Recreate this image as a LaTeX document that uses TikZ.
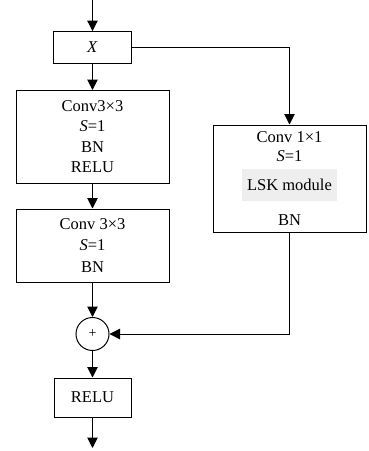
\documentclass[tikz,border=0pt]{standalone}
\usepackage{fontspec}
\setmainfont{Liberation Serif}
\usetikzlibrary{arrows.meta}
\begin{document}
\begin{tikzpicture}[x=1pt,y=-1pt, line width=1pt,
  box/.style={draw, rectangle, inner sep=0pt},
  arr/.style={-{Triangle[length=10.5pt,width=10.5pt]}},
  txt/.style={font=\fontsize{16.5}{20.5}\selectfont, align=center, inner sep=0pt}]
\useasboundingbox (0,0) rectangle (368,451);
\coordinate (top) at (92.5,0);
\coordinate (bot) at (92.5,448);
\node[box, txt, minimum width=78, minimum height=31.5] (x) at (92.5,47.3) {\textit{X}};
\node[box, txt, minimum width=153, minimum height=92.5] (b1) at (92.5,136.75)
  {Conv3×3\\\textit{S}=1\\BN\\RELU};
\node[box, txt, minimum width=153, minimum height=73, font=\fontsize{16.5}{21.5}\selectfont] (b2) at (92.5,245.5)
  {Conv 3×3\\\textit{S}=1\\BN};
\node[box, minimum width=153, minimum height=107] (r) at (289.5,178.5) {};
\node[txt] (r1) at (289.5,137) {Conv 1×1};
\node[txt] (r2) at (289.5,156.5) {\textit{S}=1};
\node[txt, fill={rgb,255:red,238;green,238;blue,238}, minimum width=95, minimum height=32] (r3) at (289.5,185) {LSK module};
\node[txt] (r4) at (289.5,220) {BN};
\node[draw, circle, minimum size=33, inner sep=0pt, font=\fontsize{14}{16}\selectfont] (c) at (92.5,334) {+};
\node[box, txt, minimum width=77, minimum height=39] (relu) at (92.5,397.5) {RELU};
\draw[arr] (top) -- (x.north);
\draw[arr] (x) -- (b1);
\draw[arr] (x.east) -| (r.north);
\draw[arr] (b1) -- (b2);
\draw[arr] (b2) -- (c);
\draw[arr] (r.south) |- (c.east);
\draw[arr] (c) -- (relu);
\draw[arr] (relu) -- (bot);
\end{tikzpicture}
\end{document}
